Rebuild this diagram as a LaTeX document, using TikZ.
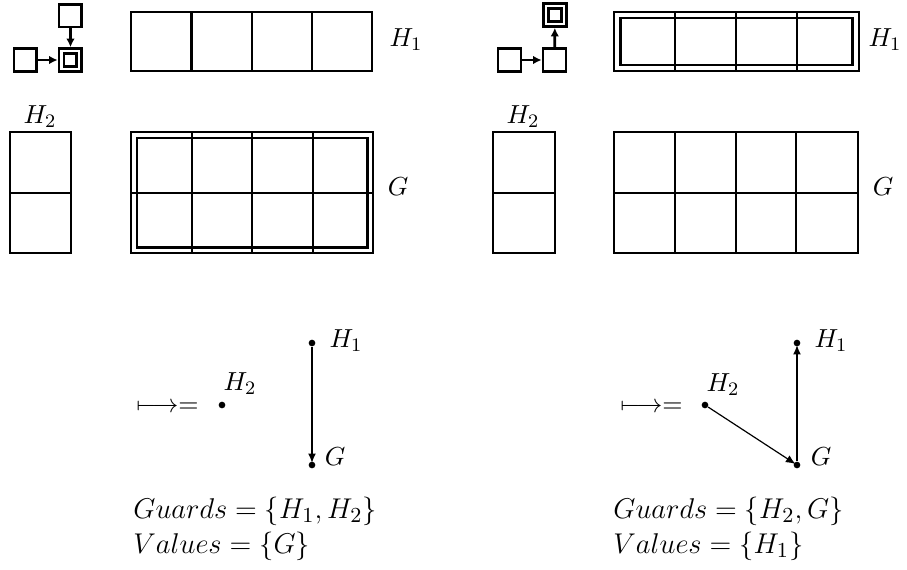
\documentclass[tikz,border=0pt]{standalone}
\usetikzlibrary{arrows.meta}
\begin{document}
\begin{tikzpicture}[x=0.42pt,y=-0.42pt,
  font=\fontsize{11}{13}\selectfont,
  sq/.style={draw,line width=1.2pt,minimum size=9.6pt,inner sep=0pt},
  sqin/.style={draw,line width=1.2pt,minimum size=5.4pt,inner sep=0pt},
  sarrow/.style={line width=1.15pt,-{Latex[length=3.6pt,width=3.6pt]}},
  cell/.style={line width=1.2pt},
  outerbox/.style={line width=0.7pt},
  lbl/.style={inner sep=0pt},
  maplbl/.style={inner sep=0pt,anchor=west,font=\fontsize{11.2}{13}\selectfont},
  setlbl/.style={inner sep=0pt,anchor=base west,font=\fontsize{12.5}{15}\selectfont},
  pt/.style={circle,fill,inner sep=0pt,minimum size=2.8pt},
  thickarrow/.style={line width=1.25pt,-{Latex[length=4pt,width=3.4pt]},shorten >=-0.8pt},
  thinarrow/.style={line width=0.5pt,-{Latex[length=4pt,width=3.4pt]},shorten >=-0.8pt}]
\useasboundingbox (0,0) rectangle (907,569);

% ---------- left top small diagram ----------
\node[sq] (la) at (70.5,15.5) {};
\node[sq] (lb) at (25.5,60) {};
\node[sq] (lc) at (70.5,60) {};
\node[sqin] (lcin) at (lc) {};
\draw[sarrow] (lb) -- (lc);
\draw[sarrow] (la) -- (lc);

% ---------- right top small diagram ----------
\node[sq] (ra) at (555,15) {};
\node[sqin] (rain) at (ra) {};
\node[sq] (rb) at (509.5,60) {};
\node[sq] (rc) at (554.5,60) {};
\draw[sarrow] (rb) -- (rc);
\draw[sarrow] (rc) -- (ra);

% ---------- left H1 grid ----------
\draw[cell] (131,12) rectangle (372,71);
\foreach \x in {191.5,252,312} \draw[cell] (\x,12) -- (\x,71);
\node[lbl] (lh1) at (406,40) {$H_1$};

% ---------- right H1 grid (highlighted) ----------
\draw[outerbox] (614,12) rectangle (859,71);
\draw[cell] (620.5,18) rectangle (852.5,65);
\foreach \x in {675,736,797} \draw[cell] (\x,12) -- (\x,71);
\node[lbl] (rh1) at (885,40) {$H_1$};

% ---------- left H2 column ----------
\draw[cell] (10,132) rectangle (71,253);
\draw[cell] (10,193) -- (71,193);
\node[lbl] (lh2) at (40,117) {$H_2$};

% ---------- left G grid (highlighted) ----------
\draw[outerbox] (131,132) rectangle (373,253);
\draw[cell] (137,138) rectangle (367.5,247.5);
\foreach \x in {192,252,313} \draw[cell] (\x,132) -- (\x,253);
\draw[cell] (131,193) -- (373,193);
\node[lbl] (lg) at (398,187) {$G$};

% ---------- right H2 column ----------
\draw[cell] (493,132) rectangle (555,253);
\draw[cell] (493,193) -- (555,193);
\node[lbl] (rh2) at (523,117) {$H_2$};

% ---------- right G grid ----------
\draw[cell] (614,132) rectangle (858,253);
\foreach \x in {675,736,796} \draw[cell] (\x,132) -- (\x,253);
\draw[cell] (614,193) -- (858,193);
\node[lbl] (rg) at (883,187) {$G$};

% ---------- bottom left graph ----------
\node[maplbl] (lmap) at (136,408) {$\longmapsto=$};
\node[pt] (p2) at (222,405) {};
\node[lbl] (p2l) at (240,384) {$H_2$};
\node[pt] (p1) at (312,343) {};
\node[lbl] (p1l) at (346,341) {$H_1$};
\node[pt] (pg) at (312,465) {};
\node[lbl] (pgl) at (335,457) {$G$};
\draw[thickarrow] (p1) -- (pg);

\node[setlbl] (lguards) at (133,518) {$Guards=\{H_1,H_2\}$};
\node[setlbl] (lvalues) at (133,553) {$Values=\{G\}$};

% ---------- bottom right graph ----------
\node[maplbl] (rmap) at (620,408) {$\longmapsto=$};
\node[pt] (q2) at (705,405) {};
\node[lbl] (q2l) at (723,385) {$H_2$};
\node[pt] (q1) at (797,343) {};
\node[lbl] (q1l) at (831,341) {$H_1$};
\node[pt] (qg) at (797,465) {};
\node[lbl] (qgl) at (821,457) {$G$};
\draw[thickarrow] (qg) -- (q1);
\draw[thinarrow] (q2) -- (qg);

\node[setlbl] (rguards) at (613,518) {$Guards=\{H_2,G\}$};
\node[setlbl] (rvalues) at (613,553) {$Values=\{H_1\}$};
\end{tikzpicture}
\end{document}
